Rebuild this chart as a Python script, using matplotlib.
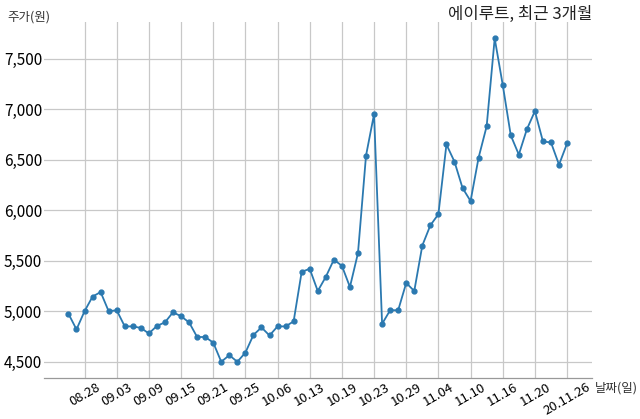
import matplotlib
matplotlib.use("Agg")
import matplotlib.pyplot as plt
from matplotlib.ticker import FuncFormatter

plt.rcParams['font.family'] = ['Noto Sans CJK KR', 'DejaVu Sans']

prices = [4975, 4820, 5000, 5145, 5190, 5000, 5010, 4850, 4850, 4835,
          4780, 4855, 4890, 4990, 4950, 4890, 4745, 4745, 4690, 4500,
          4565, 4500, 4590, 4765, 4840, 4760, 4850, 4850, 4900, 5390,
          5420, 5200, 5340, 5510, 5450, 5240, 5575, 6540, 6950, 4875,
          5010, 5010, 5280, 5200, 5650, 5850, 5960, 6650, 6480, 6220,
          6090, 6520, 6830, 7700, 7240, 6740, 6550, 6800, 6980, 6680,
          6670, 6450, 6660]
tick_labels = ['08.28', '09.03', '09.09', '09.15', '09.21', '09.25', '10.06', '10.13',
               '10.19', '10.23', '10.29', '11.04', '11.10', '11.16', '11.20', '20.11.26']
tick_positions = list(range(2, len(prices), 4))

fig = plt.figure(figsize=(6.4, 4.19), dpi=100)
ax = fig.add_axes([0.068, 0.098, 0.857, 0.849])

x = list(range(len(prices)))
ax.plot(x, prices, color='#2b79b0', linewidth=1.3, marker='o', markersize=3.5)

ax.set_xticks(tick_positions)
ax.set_xticklabels(tick_labels, rotation=30, ha='center', fontsize=9.5)
ax.yaxis.set_major_formatter(FuncFormatter(lambda v, p: f'{int(v):,}'))
ax.set_yticks([4500, 5000, 5500, 6000, 6500, 7000, 7500])
ax.tick_params(axis='y', labelsize=11, length=0, pad=1)
ax.tick_params(axis='x', length=0, pad=2)

ax.grid(True, color='#c8c8c8', linewidth=0.9)
ax.set_axisbelow(True)
for s in ['top', 'right', 'left']:
    ax.spines[s].set_visible(False)
ax.spines['bottom'].set_color('#999999')
ax.spines['bottom'].set_linewidth(0.9)

fig.text(0.925, 0.985, '에이루트, 최근 3개월', ha='right', va='top', fontsize=12, color='#222222')
fig.text(0.011, 0.975, '주가(원)', ha='left', va='top', fontsize=9, color='#333333')
fig.text(0.93, 0.075, '날짜(일)', ha='left', va='center', fontsize=9, color='#333333')

fig.savefig('out.png', dpi=100)
